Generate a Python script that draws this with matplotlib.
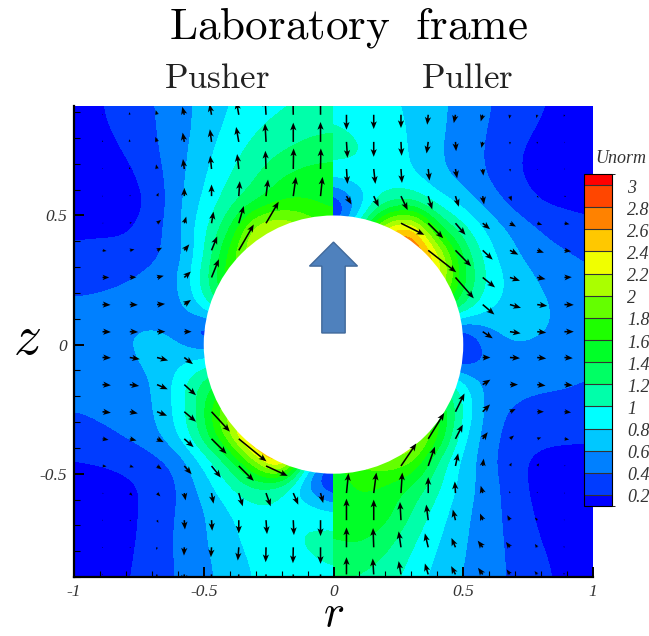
import numpy as np
import matplotlib
matplotlib.use("Agg")
import matplotlib.pyplot as plt
from matplotlib.colors import ListedColormap, BoundaryNorm
from matplotlib.cm import ScalarMappable
from matplotlib.patches import Circle
from matplotlib.ticker import MultipleLocator

plt.rcParams['mathtext.fontset'] = 'cm'
plt.rcParams['font.family'] = ['Liberation Serif', 'DejaVu Serif']

# Unorm, rows from top to bottom
z_rows = [.95, .85, .75, .65, .55, .45, .35, .25, .15, .05,
          -.05, -.15, -.25, -.35, -.45, -.55, -.65, -.75, -.85, -.95]
r_left = [-1, -.9, -.8, -.7, -.6, -.5, -.4, -.3, -.2, -.1, 0]
r_right = [0, .1, .2, .3, .4, .5, .6, .7, .8, .9, 1]

unorm_left = [
    [.10, .19, .28, .39, .50, .68, .79, .88, .96, 1.0, 1.0],
    [.10, .17, .26, .38, .50, .68, .84, .97, 1.06, 1.12, 1.15],
    [.07, .12, .21, .35, .52, .72, .92, 1.07, 1.18, 1.28, 1.33],
    [.06, .09, .13, .29, .52, .78, 1.0, 1.18, 1.40, 1.50, 1.50],
    [.07, .08, .11, .22, .55, .84, 1.12, 1.36, 1.60, 1.60, 1.50],
    [.16, .16, .15, .30, .54, .95, 1.35, 2.20, 2.30, 2.00, 1.80],
    [.24, .26, .29, .34, .50, .95, 1.70, 2.30, 2.20, 2.00, 1.80],
    [.32, .35, .39, .46, .57, 1.10, 1.80, 1.80, 1.80, 1.80, 1.80],
    [.44, .45, .47, .50, .50, .90, 1.40, 1.40, 1.40, 1.40, 1.40],
    [.50, .52, .60, .63, .55, .12, .20, .60, .60, .60, .60],
    [.48, .50, .57, .66, .72, .78, .90, .90, .90, .90, .90],
    [.47, .47, .50, .58, .87, 1.30, 1.50, 1.50, 1.50, 1.50, 1.50],
    [.41, .44, .47, .57, .85, 1.35, 2.20, 2.20, 2.20, 2.20, 2.20],
    [.30, .36, .42, .52, .80, 1.30, 2.00, 3.00, 2.70, 2.70, 2.70],
    [.20, .22, .26, .32, .45, .85, 1.25, 2.00, 2.90, .80, .20],
    [.09, .10, .15, .24, .38, .68, .98, 1.20, 1.00, .50, .10],
    [.07, .09, .13, .27, .41, .58, .79, .93, .97, .95, .85],
    [.06, .09, .15, .27, .43, .57, .75, .88, .95, 1.03, 1.08],
    [.06, .09, .17, .28, .42, .55, .70, .83, .92, .97, 1.00],
    [.07, .10, .19, .29, .41, .53, .68, .81, .90, .95, .97],
]
unorm_right = [
    [.97, .92, .85, .75, .65, .53, .41, .32, .22, .14, .10],
    [1.0, .95, .88, .78, .64, .52, .39, .28, .18, .12, .08],
    [1.1, 1.03, .92, .78, .62, .50, .37, .22, .13, .10, .07],
    [.85, .90, .90, .82, .65, .52, .38, .22, .12, .09, .07],
    [.10, .65, 1.10, 1.20, .90, .72, .50, .32, .18, .15, .13],
    [.20, 1.0, 2.3, 2.6, 1.45, 1.05, .72, .53, .38, .30, .25],
    [2.0, 2.5, 3.0, 3.1, 2.3, 1.35, .85, .62, .48, .41, .35],
    [2.3, 2.3, 2.3, 2.5, 2.4, 1.45, .93, .72, .58, .50, .44],
    [1.8, 1.8, 1.8, 1.8, 1.8, 1.2, .82, .72, .63, .55, .50],
    [.60, .60, .60, .50, .20, .25, .55, .67, .62, .55, .50],
    [.60, .60, .60, .50, .20, .12, .45, .53, .50, .47, .45],
    [1.3, 1.3, 1.3, 1.3, 1.3, .85, .50, .46, .44, .42, .38],
    [1.7, 1.7, 1.7, 1.7, 1.7, 1.0, .47, .38, .33, .33, .32],
    [2.0, 2.0, 2.1, 2.4, 1.7, .82, .47, .30, .26, .25, .24],
    [1.4, 1.9, 2.0, 1.9, 1.15, .72, .45, .24, .14, .11, .12],
    [1.5, 1.6, 1.55, 1.35, 1.05, .70, .48, .28, .11, .08, .08],
    [1.5, 1.6, 1.5, 1.2, .90, .65, .47, .32, .14, .07, .07],
    [1.4, 1.45, 1.3, 1.05, .82, .62, .47, .34, .19, .08, .06],
    [1.25, 1.25, 1.15, .95, .75, .60, .47, .36, .24, .12, .06],
    [1.15, 1.15, 1.05, .90, .70, .58, .46, .36, .25, .15, .07],
]

# velocity arrows, measured lengths on the zoomed picture
r_arrows = [-.89, -.785, -.68, -.575, -.47, -.365, -.26, -.155, -.05,
            .05, .155, .26, .365, .47, .575, .68, .785, .89]
z_arrows = [.89, .785, .68, .575, .47, .365, .26, .155, .05,
            -.05, -.155, -.26, -.365, -.47, -.575, -.68, -.785, -.89]

u_arrows = [
    [0, -2, -4, -6, -6, -7, -3, -1, 0, 0, 0, 0, -3, -5, -6, -2, -3, -2],
    [0, -2, -5, -5, -5, -8, -3, 0, 0, 3, 0, 2, -5, 2, -4, 0, 0, 0],
    [0, -2, -3, -4, -4, -5, -2, 1, 1, 3, 5, 3, 4, 5, 2, 1, 0, 1],
    [1, 2, 5, 0, 0, 3, 6, 8, 6, 15, 15, 20, 12, 10, 4, 5, 4, 5],
    [3, 6, 12, 6, 6, 15, 38, 0, 0, 0, 0, 70, 45, 30, 22, 18, 15, 15],
    [12, 14, 15, 15, 17, 45, 0, 0, 0, 0, 0, 0, 84, 47, 30, 25, 20, 20],
    [20, 20, 20, 20, 22, 0, 0, 0, 0, 0, 0, 0, 0, 55, 37, 30, 25, 22],
    [24, 24, 24, 20, 0, 0, 0, 0, 0, 0, 0, 0, 0, 0, 35, 33, 30, 28],
    [25, 25, 25, 22, 0, 0, 0, 0, 0, 0, 0, 0, 0, 0, 30, 32, 27, 28],
    [25, 30, 33, 26, 0, 0, 0, 0, 0, 0, 0, 0, 0, 0, 23, 30, 27, 25],
    [25, 28, 32, 35, 0, 0, 0, 0, 0, 0, 0, 0, 0, 0, 23, 24, 25, 25],
    [25, 24, 30, 35, 55, 0, 0, 0, 0, 0, 0, 0, 0, 27, 22, 17, 20, 20],
    [18, 20, 20, 28, 45, 83, 0, 0, 0, 0, 0, 0, 48, 22, 15, 12, 12, 14],
    [12, 12, 14, 22, 28, 45, 65, 0, 0, 0, 0, 46, 20, 8, 3, 5, 6, 3],
    [3, 8, 10, 4, 6, 12, 14, 15, 8, 6, 8, 4, 0, -2, -6, -2, 0, 0],
    [2, 4, 4, 2, 2, 0, 3, 2, 0, 0, 0, -3, -6, -8, -8, -8, -7, -2],
    [1, 3, -2, -1, -2, -3, -1, -1, 0, 0, -2, -7, -10, -12, -15, -12, -7, -3],
    [1, 2, -2, -1, -2, -3, -1, -1, 0, 0, -3, -7, -10, -13, -14, -10, -8, -3],
]
v_arrows = [
    [2, 8, 14, 24, 32, 40, 48, 50, 52, -45, -43, -40, -30, -25, -20, -12, -10, -6],
    [5, 8, 15, 28, 38, 45, 55, 58, 60, -48, -45, -42, -35, -28, -18, -8, -6, -3],
    [3, 6, 14, 30, 40, 45, 55, 62, 62, -45, -45, -42, -35, -28, -20, -8, -3, -2],
    [2, 4, 10, 25, 35, 45, 50, 58, 58, -25, -32, -42, -40, -32, -25, -15, -5, -2],
    [1, 3, 10, 20, 35, 52, 65, 0, 0, 0, 0, -35, -45, -35, -18, -10, -5, -3],
    [-2, 3, 8, 18, 42, 78, 0, 0, 0, 0, 0, 0, -66, -48, -28, -13, -7, -3],
    [0, 1, 5, 18, 55, 0, 0, 0, 0, 0, 0, 0, 0, -63, -30, -10, -5, 1],
    [-1, -1, 2, 14, 0, 0, 0, 0, 0, 0, 0, 0, 0, 0, -30, -10, -4, -1],
    [-1, -1, 0, 0, 0, 0, 0, 0, 0, 0, 0, 0, 0, 0, -20, -5, -3, 0],
    [-1, -5, -9, -20, 0, 0, 0, 0, 0, 0, 0, 0, 0, 0, 0, -2, -3, -2],
    [-2, -4, -14, -32, 0, 0, 0, 0, 0, 0, 0, 0, 0, 0, 15, 0, -3, -2],
    [-3, -5, -12, -30, -60, 0, 0, 0, 0, 0, 0, 0, 0, 55, 22, 8, 0, -2],
    [-3, -5, -10, -25, -45, -68, 0, 0, 0, 0, 0, 0, 78, 43, 20, 10, 4, -2],
    [-1, -4, -10, -25, -35, -45, -30, 0, 0, 0, 0, 68, 58, 38, 22, 10, 8, 2],
    [-2, -8, -10, -22, -32, -40, -40, -35, -30, 60, 62, 62, 48, 35, 22, 6, 4, 2],
    [0, -3, -8, -28, -32, -40, -42, -45, -48, 65, 62, 55, 47, 32, 20, 15, 8, 2],
    [0, -2, -8, -25, -30, -40, -45, -48, -50, 60, 58, 48, 42, 28, 20, 16, 10, 3],
    [0, -2, -8, -25, -30, -40, -45, -48, -50, 52, 48, 40, 33, 25, 20, 15, 10, 5],
]

levels = [0, .2, .4, .6, .8, 1, 1.2, 1.4, 1.6, 1.8, 2, 2.2, 2.4, 2.6, 2.8, 3, 9]
bar_bounds = [.1, .2, .4, .6, .8, 1, 1.2, 1.4, 1.6, 1.8, 2, 2.2, 2.4, 2.6, 2.8, 3, 3.1]
bar_ticks = [.2, .4, .6, .8, 1, 1.2, 1.4, 1.6, 1.8, 2, 2.2, 2.4, 2.6, 2.8, 3]
bar_labels = ['0.2', '0.4', '0.6', '0.8', '1', '1.2', '1.4', '1.6', '1.8', '2',
              '2.2', '2.4', '2.6', '2.8', '3']
band_colors = ['#0000ff', '#003cff', '#0080ff', '#00c8ff', '#00ffff', '#00ffaa',
               '#00ff64', '#00ff28', '#1eff00', '#64ff00', '#aaff00', '#f0ff00',
               '#ffc800', '#ff8200', '#ff4600', '#ff0000']

W, H = 649, 636


def px_rect(x0, y0, x1, y1):
    return [x0 / W, 1 - y1 / H, (x1 - x0) / W, (y1 - y0) / H]


def px_text(x, y, s, **kw):
    fig.text(x / W, 1 - y / H, s, ha='center', va='center', **kw)


def smooth_1d(a, n=4):
    # box filter, edges padded so the values at the border stay
    pad = np.pad(a, n, mode='edge')
    return np.convolve(pad, np.ones(2 * n + 1) / (2 * n + 1), mode='same')[n:-n]


def draw_half(ax, r_vals, values):
    # contours of the coarse table are very angular, so go to a finer mesh first
    r_fine = np.linspace(r_vals[0], r_vals[-1], 101)
    z_asc = np.array(z_rows)[::-1]
    z_fine = np.linspace(z_asc[0], z_asc[-1], 191)
    field = np.array(values)[::-1]
    field = np.array([np.interp(r_fine, r_vals, row) for row in field])
    field = np.array([np.interp(z_fine, z_asc, col) for col in field.T]).T
    for i in range(2):
        field = np.array([smooth_1d(row) for row in field])
        field = np.array([smooth_1d(col) for col in field.T]).T
    ax.contourf(r_fine, z_fine, field, levels=levels, cmap=cmap, norm=norm_field)


cmap = ListedColormap(band_colors)
norm_field = BoundaryNorm(levels, cmap.N)

fig = plt.figure(figsize=(W / 100, H / 100), dpi=100)
ax = fig.add_axes(px_rect(74, 106, 593, 577))

draw_half(ax, r_left, unorm_left)
draw_half(ax, r_right, unorm_right)

ax.add_patch(Circle((0, 0), .5, fc='white', ec='none', zorder=3))

ra, za = np.meshgrid(r_arrows, z_arrows)
outside = ra**2 + za**2 > .25
ax.quiver(ra[outside], za[outside], np.array(u_arrows)[outside], np.array(v_arrows)[outside],
          angles='xy', scale_units='xy', scale=778, pivot='tail', color='black',
          width=.003, headwidth=4, headlength=5, headaxislength=4, minlength=.5, zorder=4)

# direction of swimming
ax.arrow(0, .045, 0, .352, width=.09, head_width=.185, head_length=.093,
         length_includes_head=True, fc='#4f81bd', ec='#41699a', lw=1, zorder=5)

ax.set_xlim(-1, 1)
ax.set_ylim(-.9, .924)
ax.spines['top'].set_visible(False)
ax.spines['right'].set_visible(False)
ax.spines['left'].set_linewidth(1.6)
ax.spines['bottom'].set_linewidth(1.6)
ax.xaxis.set_minor_locator(MultipleLocator(.1))
ax.yaxis.set_minor_locator(MultipleLocator(.1))
ax.set_xticks([-1, -.5, 0, .5, 1], ['-1', '-0.5', '0', '0.5', '1'], fontsize=12.5, style='italic', color='#333333')
ax.set_yticks([-.5, 0, .5], ['-0.5', '0', '0.5'], fontsize=12.5, style='italic', color='#333333')
ax.tick_params(which='major', direction='in', length=7, width=1.4, pad=5)
ax.tick_params(which='minor', direction='in', length=4, width=.8)

cax = fig.add_axes(px_rect(584, 174, 612, 506))
bar_norm = BoundaryNorm(bar_bounds, cmap.N)
cb = fig.colorbar(ScalarMappable(norm=bar_norm, cmap=cmap), cax=cax, spacing='proportional',
                  ticks=bar_ticks, drawedges=True)
cb.outline.set_linewidth(.8)
cb.dividers.set_linewidth(.8)
cb.dividers.set_color('#333333')
cax.tick_params(length=0, labelright=False)
for tick, label in zip(bar_ticks, bar_labels):
    cax.annotate(label, xy=(1, tick), xycoords=cax.get_yaxis_transform(), xytext=(15, -3),
                 textcoords='offset pixels', ha='left', va='center', fontsize=13,
                 style='italic', color='#333333')
px_text(621, 158, 'Unorm', fontsize=13, style='italic', color='#333333')

px_text(348, 27, r'$\mathrm{Laboratory\ \ frame}$', fontsize=32.5)
px_text(217, 79, r'$\mathrm{Pusher}$', fontsize=25, color='#222222')
px_text(467, 79, r'$\mathrm{Puller}$', fontsize=25, color='#222222')
px_text(27, 340, r'$z$', fontsize=40)
px_text(334, 615, r'$r$', fontsize=32)

fig.savefig('out.png', dpi=100)
